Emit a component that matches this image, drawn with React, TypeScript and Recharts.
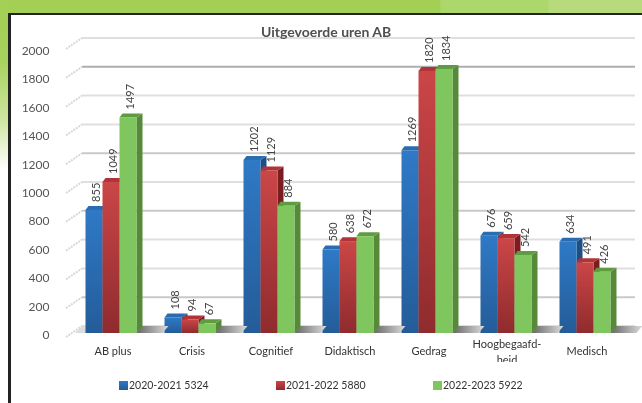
import { Bar, CartesianGrid, ComposedChart, LabelList, Legend, XAxis, YAxis } from 'recharts';

const categories = ['AB plus', 'Crisis', 'Cognitief', 'Didaktisch', 'Gedrag', 'Hoogbegaafd-heid', 'Medisch'];
const series2021 = [855, 108, 1202, 580, 1269, 676, 634];
const series2022 = [1049, 94, 1129, 638, 1820, 659, 491];
const series2023 = [1497, 67, 884, 672, 1834, 542, 426];
const seriesNames = ['2020-2021 5324', '2021-2022 5880', '2022-2023 5922'];
const yTicks = [0, 200, 400, 600, 800, 1000, 1200, 1400, 1600, 1800, 2000];

const rows = categories.map((name, i) => ({
  name,
  a: series2021[i],
  b: series2022[i],
  c: series2023[i],
}));

// the back wall sits a little higher than the front of the bars
const BACK_OFFSET = 48.6;
const FONT = 'Lato, "Open Sans", sans-serif';

const GridLine = ({ x1, x2, y1, index }: any) => {
  const tick = yTicks[index];
  const color = tick === 1800 ? '#aeaeae' : tick === 200 || tick === 1200 || tick === 800 ? '#c9c9c9' : '#dfdfdf';
  return (
    <g>
      <line x1={x1 + 10.5} x2={x2 + 10.5} y1={y1} y2={y1} stroke={color} strokeWidth={2} />
      <line x1={x1 - 5.5} x2={x1 + 10.5} y1={y1 + 11} y2={y1} stroke="#d8d8d8" strokeWidth={2} strokeDasharray="2 1" />
      {tick === 0 && (
        <polygon points={`${x1 + 10.5},${y1} ${x2 + 10.5},${y1} ${x2 + 3.5},${y1 + 7} ${x1 + 3.5},${y1 + 7}`} fill="#dcdcdc" />
      )}
    </g>
  );
};

const Bar3D = ({ x, y, width, height, fill, side, top, shadow }: any) => {
  const d = 6;
  const h = 4;
  return (
    <g>
      {shadow && (
        <polygon
          points={`${x + width},${y + height} ${x + width + d},${y + height - 7} ${x + width + 32},${y + height - 7} ${x + width + 26},${y + height}`}
          fill="url(#floorShadow)"
        />
      )}
      <polygon
        points={`${x + width},${y} ${x + width + d},${y - h} ${x + width + d},${y + height - h - 2} ${x + width},${y + height}`}
        fill={side}
      />
      <polygon points={`${x},${y} ${x + 3},${y - h} ${x + width + d},${y - h} ${x + width},${y}`} fill={top} />
      <rect x={x} y={y} width={width} height={height} fill={fill} />
    </g>
  );
};

const ValueLabel = ({ x, y, width, value }: any) => {
  const tx = x + width / 2 + 6;
  const ty = y - 8;
  return (
    <text x={tx} y={ty} transform={`rotate(-90 ${tx} ${ty})`} fontSize={11} fontFamily={FONT} fill="#444">
      {value}
    </text>
  );
};

const YTick = ({ x, y, payload }: any) => (
  <text x={x - 14} y={y + 6 + (payload.value / 2000) * 4} textAnchor="end" fontSize={12} fontFamily={FONT} fill="#555">
    {payload.value}
  </text>
);

const XTick = ({ x, payload }: any) => {
  const parts = String(payload.value).split('-');
  if (parts.length === 1) {
    return (
      <text x={x + 2} y={355} textAnchor="middle" fontSize={11} fontFamily={FONT} fill="#333">
        {payload.value}
      </text>
    );
  }
  return (
    <g clipPath="url(#tickClip)">
      <text x={x + 1} y={348} textAnchor="middle" fontSize={11} fontFamily={FONT} fill="#333">
        {parts[0]}-
      </text>
      <text x={x + 1} y={364} textAnchor="middle" fontSize={11} fontFamily={FONT} fill="#333">
        {parts[1]}
      </text>
    </g>
  );
};

const legendColors = ['url(#blueFront)', 'url(#redFront)', '#7fc65e'];

const LegendRow = () => (
  <div style={{ display: 'flex', fontFamily: FONT, fontSize: 10.5, color: '#333' }}>
    {seriesNames.map((name, i) => (
      <div key={name} style={{ width: 157, display: 'flex', alignItems: 'center', gap: 1 }}>
        <svg width={9} height={9}>
          <rect width={9} height={9} fill={legendColors[i]} />
        </svg>
        <span>{name}</span>
      </div>
    ))}
  </div>
);

export default function App() {
  return (
    <div style={{ position: 'absolute', left: 0, top: 0, width: 642, height: 403, overflow: 'hidden', background: '#fff' }}>
      <div style={{ position: 'absolute', left: 0, top: 0, width: 642, height: 13, background: 'linear-gradient(90deg, #a3d054 0, #a3d054 440px, #acd76b 441px, #acd76b 548px, #b6da7c 549px)' }} />
      <div style={{ position: 'absolute', left: 0, top: 0, width: 9, height: 170, background: 'linear-gradient(180deg, #a3d054 0, #a6d15c 35%, #cfe4a0 70%, #ffffff 100%)' }} />
      <div style={{ position: 'absolute', left: 8, top: 13, width: 640, height: 400, boxSizing: 'border-box', borderLeft: '3px solid #232323', borderTop: '2px solid #232323', background: '#fff' }} />
      <div style={{ position: 'absolute', left: 0, top: 0, filter: 'blur(0.45px)' }}>
        <ComposedChart
          width={642}
          height={403}
          data={rows}
          barSize={17}
          barGap={0}
          margin={{ top: 38, right: 17.5, bottom: 69, left: 0 }}
          style={{ background: 'transparent', overflow: 'visible' }}
        >
          <defs>
            <linearGradient id="blueFront" x1="0" y1="0" x2="0" y2="1">
              <stop offset="0" stopColor="#2f79c6" />
              <stop offset="1" stopColor="#245c98" />
            </linearGradient>
            <linearGradient id="redFront" x1="0" y1="0" x2="0" y2="1">
              <stop offset="0" stopColor="#cb4647" />
              <stop offset="1" stopColor="#8f2b2e" />
            </linearGradient>
            <linearGradient id="floorShadow" x1="0" y1="0" x2="1" y2="0">
              <stop offset="0" stopColor="#666" />
              <stop offset="1" stopColor="#dcdcdc" />
            </linearGradient>
            <clipPath id="tickClip">
              <rect x={440} y={335} width={140} height={27} />
            </clipPath>
          </defs>
          <CartesianGrid
            vertical={false}
            horizontalValues={yTicks.map((t) => t + BACK_OFFSET)}
            horizontal={(p: any) => <GridLine key={p.key} {...p} />}
          />
          <XAxis dataKey="name" height={1} axisLine={false} tickLine={false} interval={0} tick={<XTick />} />
          <YAxis width={71.5} domain={[0, 2000 + BACK_OFFSET]} ticks={yTicks} axisLine={false} tickLine={false} tick={<YTick />} />
          <Bar
            dataKey="a"
            name={seriesNames[0]}
            fill="url(#blueFront)"
            isAnimationActive={false}
            shape={(p: any) => <Bar3D {...p} side="#1d4f85" top="#2a6cb0" />}
          >
            <LabelList dataKey="a" content={<ValueLabel />} />
          </Bar>
          <Bar
            dataKey="b"
            name={seriesNames[1]}
            fill="url(#redFront)"
            isAnimationActive={false}
            shape={(p: any) => <Bar3D {...p} side="#7a1c20" top="#b23337" />}
          >
            <LabelList dataKey="b" content={<ValueLabel />} />
          </Bar>
          <Bar
            dataKey="c"
            name={seriesNames[2]}
            fill="#7fc65e"
            isAnimationActive={false}
            shape={(p: any) => <Bar3D {...p} side="#568a38" top="#5f9c40" shadow />}
          >
            <LabelList dataKey="c" content={<ValueLabel />} />
          </Bar>
          <Legend layout="horizontal" verticalAlign="middle" content={<LegendRow />} wrapperStyle={{ left: 119, top: 379, width: 480 }} />
        </ComposedChart>
        <div style={{ position: 'absolute', left: 261, top: 23, fontFamily: FONT, fontWeight: 700, fontSize: 14, color: '#505050', whiteSpace: 'nowrap' }}>
          Uitgevoerde uren AB
        </div>
      </div>
    </div>
  );
}
